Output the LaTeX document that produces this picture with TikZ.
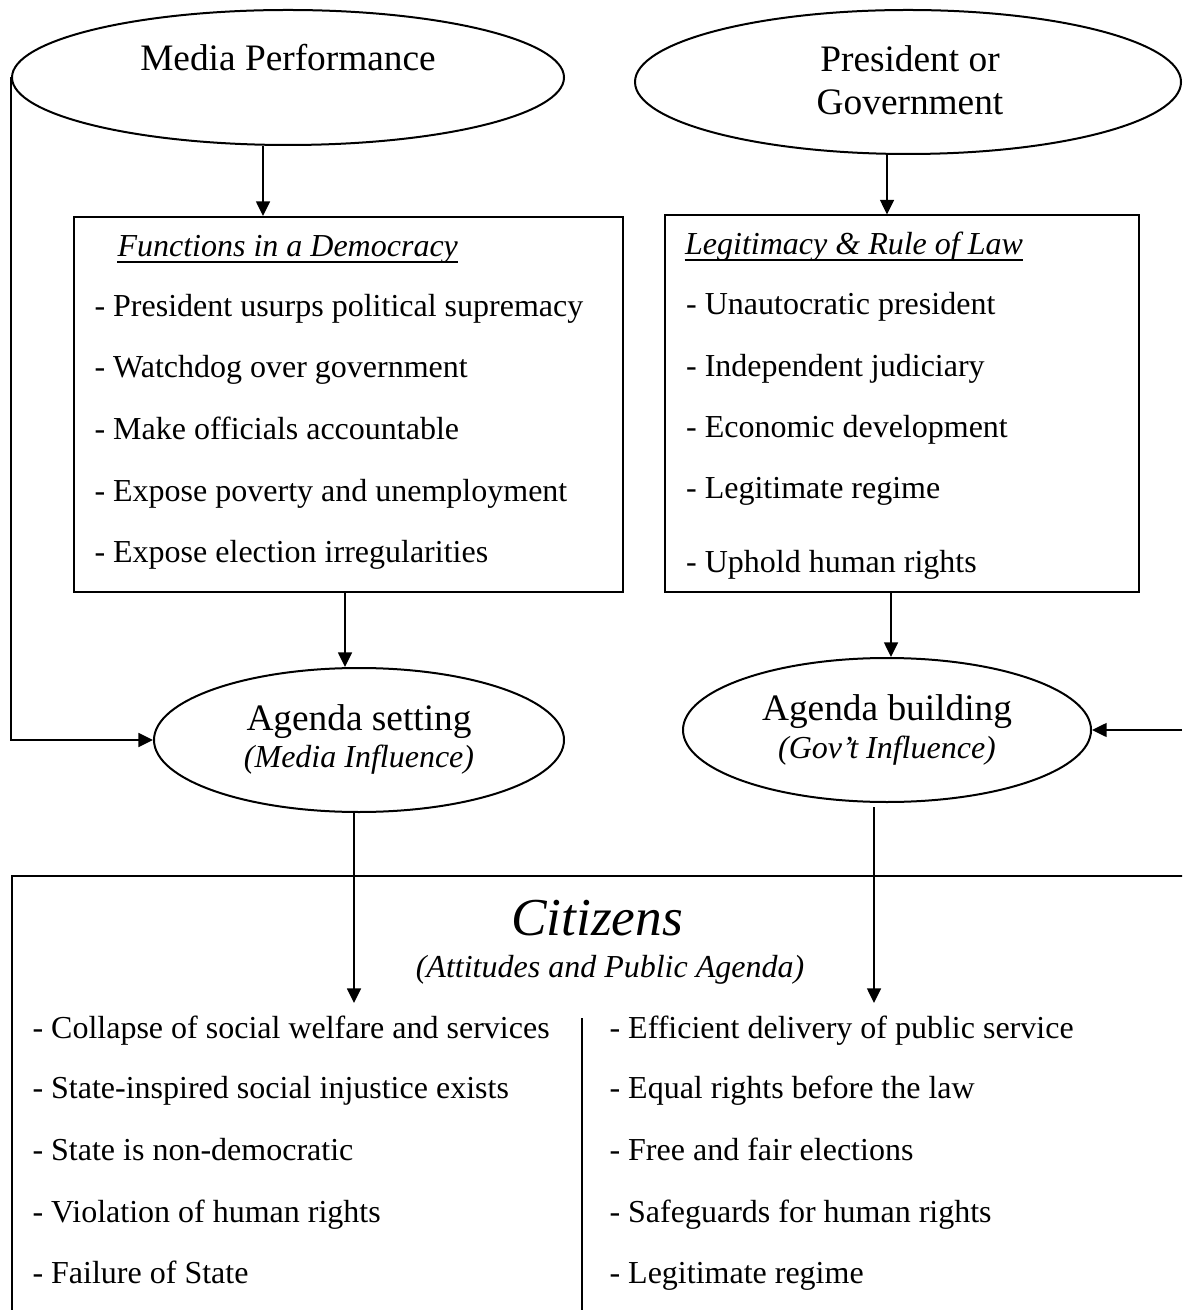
\documentclass[tikz,border=0pt]{standalone}
\usepackage{fontspec}
\setmainfont{Liberation Serif}
\usetikzlibrary{positioning,arrows.meta,shapes.geometric}

\newcommand{\unitpx}{0.375pt}

\tikzset{
  oval/.style={draw, ellipse, line width=0.75pt, inner sep=0pt},
  frame/.style={draw, rectangle, line width=0.75pt, inner sep=0pt, anchor=north west},
  arr/.style={-{Triangle[length=5.5pt,width=5.2pt]}, line width=0.75pt},
  big/.style={font=\fontsize{14}{16}\selectfont, inner sep=0pt, anchor=base},
  item/.style={font=\fontsize{12}{14}\selectfont, inner sep=0pt, anchor=base west},
  note/.style={font=\fontsize{12}{14}\selectfont\itshape, inner sep=0pt, anchor=base},
}

\begin{document}
\begin{tikzpicture}[x=\unitpx, y=-\unitpx]
  \clip (0,0) rectangle (1182,1310);

  % sources
  \node[oval, minimum width=552*\unitpx, minimum height=135*\unitpx] (media) at (288,77.5) {};
  \node[big] (mediaT) at (288,71) {Media Performance};
  \node[oval, minimum width=546*\unitpx, minimum height=144*\unitpx] (pres) at (908,82) {};
  \node[big] (presT) at (910,72) {President or};
  \node[big] (presT2) at (910,115) {Government};

  % middle boxes
  \node[frame, minimum width=549.5*\unitpx, minimum height=375.5*\unitpx] (func) at (72.5,216) {};
  \node[note, anchor=base west] (funcT) at (117,257) {Functions in a Democracy};
  \draw[line width=0.6pt] ([yshift=-1.8pt]funcT.base west) -- ([yshift=-1.8pt]funcT.base east);
  \foreach \y/\txt in {316.7/{- President usurps political supremacy},
                       378/{- Watchdog over government},
                       440/{- Make officials accountable},
                       501.7/{- Expose poverty and unemployment},
                       563/{- Expose election irregularities}} {
    \node[item] at (94,\y) {\txt};
  }

  \node[frame, minimum width=474*\unitpx, minimum height=377*\unitpx] (legit) at (663.6,214.5) {};
  \node[note, anchor=base west] (legitT) at (684.6,255) {Legitimacy \& Rule of Law};
  \draw[line width=0.6pt] ([yshift=-1.8pt]legitT.base west) -- ([yshift=-1.8pt]legitT.base east);
  \foreach \y/\txt in {315/{- Unautocratic president},
                       377/{- Independent judiciary},
                       438/{- Economic development},
                       499/{- Legitimate regime},
                       573/{- Uphold human rights}} {
    \node[item] at (685.6,\y) {\txt};
  }

  % agenda ellipses
  \node[oval, minimum width=410*\unitpx, minimum height=144*\unitpx] (aset) at (359,740) {};
  \node[big] (asetT) at (359,730) {Agenda setting};
  \node[note] (asetN) at (359,767) {(Media Influence)};
  \node[oval, minimum width=408*\unitpx, minimum height=144*\unitpx] (abuild) at (887,730) {};
  \node[big] (abuildT) at (887,720) {Agenda building};
  \node[note] (abuildN) at (887,758) {(Gov’t Influence)};

  % citizens
  \node[frame, minimum width=1190*\unitpx, minimum height=460*\unitpx] (cit) at (11,875) {};
  \node[big, font=\fontsize{20}{24}\selectfont\itshape] (citT) at (597,935) {Citizens};
  \node[note] (citN) at (610,977) {(Attitudes and Public Agenda)};
  \draw[line width=0.75pt] (582,1018) -- (582,1320);
  \foreach \y/\lft/\rgt in {1038/{- Collapse of social welfare and services}/{- Efficient delivery of public service},
                            1098/{- State-inspired social injustice exists}/{- Equal rights before the law},
                            1160/{- State is non-democratic}/{- Free and fair elections},
                            1222/{- Violation of human rights}/{- Safeguards for human rights},
                            1283/{- Failure of State}/{- Legitimate regime}} {
    \node[item] at (32,\y) {\lft};
    \node[item] at (609,\y) {\rgt};
  }

  % connectors
  \coordinate (rim) at (1182,730);
  \coordinate (dropL) at (354,1003);
  \coordinate (dropR) at (874,1003);
  \draw[arr] (media.south -| 263,0) -- (func.north -| 263,0);
  \draw[arr] (pres.south -| 887,0) -- (legit.north -| 887,0);
  \draw[arr] (func.south -| 345,0) -- (aset.north -| 345,0);
  \draw[arr] (legit.south -| 891,0) -- (abuild.north -| 891,0);
  \draw[arr] (media.west) |- (aset.west);
  \draw[arr] (rim) -- (abuild.east);
  \draw[arr] (aset.south -| dropL) -- (dropL);
  \draw[arr] ([yshift=-1.5pt]abuild.south -| dropR) -- (dropR);
\end{tikzpicture}
\end{document}
